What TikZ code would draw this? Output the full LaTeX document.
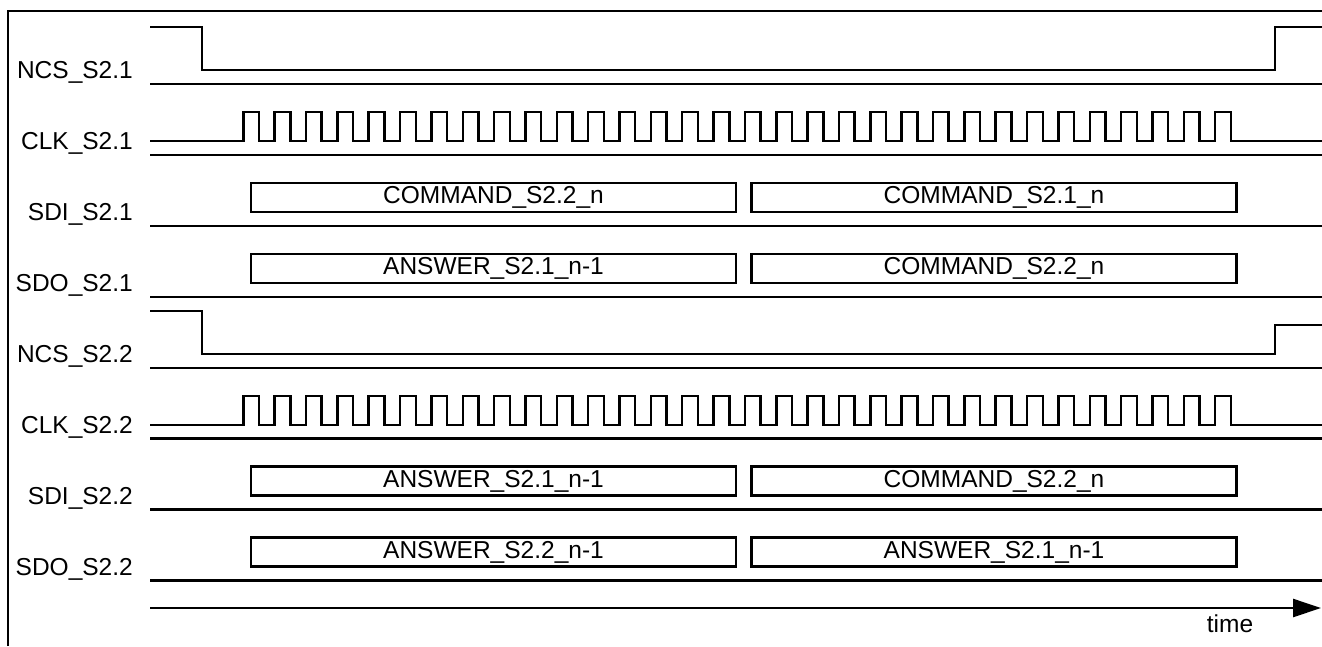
\documentclass[tikz,border=0pt]{standalone}
\usepackage{fontspec}
\setmainfont{Liberation Sans}
\usetikzlibrary{arrows.meta}
\begin{document}
\begin{tikzpicture}[x=1pt,y=-1pt,
  wave/.style={line width=2.5pt, line join=miter},
  sepline/.style={line width=2.6pt},
  frameline/.style={line width=1.6pt},
  siglabel/.style={anchor=base east, inner sep=0pt, font=\fontsize{24.5}{28}\selectfont},
  databox/.style={draw, line width=2.5pt, minimum width=485pt, minimum height=29pt, inner sep=0pt, font=\fontsize{24.5}{28}\selectfont},
  timelabel/.style={anchor=base, inner sep=0pt, font=\fontsize{24.5}{28}\selectfont}]
\useasboundingbox (0,0) rectangle (1322,646);
% frame
\draw[frameline] (8,646) -- (8,11) -- (1322,11);
% separators
\foreach \k in {0,...,7} {
  \draw[sepline] (150,{84+70.95*\k}) -- (1322,{84+70.95*\k});
}
% labels
\node[siglabel] (l1) at (133,78.6) {NCS\_S2.1};
\node[siglabel] (l2) at (133,149.5) {CLK\_S2.1};
\node[siglabel] (l3) at (133,220.5) {SDI\_S2.1};
\node[siglabel] (l4) at (133,291.5) {SDO\_S2.1};
\node[siglabel] (l5) at (133,362.4) {NCS\_S2.2};
\node[siglabel] (l6) at (133,433.4) {CLK\_S2.2};
\node[siglabel] (l7) at (133,504.3) {SDI\_S2.2};
\node[siglabel] (l8) at (133,575.3) {SDO\_S2.2};
% NCS waveforms
\draw[wave] (150,27) -- (202,27) -- (202,70) -- (1275,70) -- (1275,27) -- (1322,27);
\draw[wave] (150,310.8) -- (202,310.8) -- (202,353.8) -- (1275,353.8) -- (1275,324.8) -- (1322,324.8);
% CLK waveforms
\foreach \yl in {141, 424.8} {
  \draw[wave] (150,\yl) -- (243.3,\yl)
    \foreach \i in {0,...,31} { -- ++(0,-29) -- ++(15.7,0) -- ++(0,29) -- ++(15.65,0) }
    -- (1322,\yl);
}
% data boxes
\node[databox] (b1a) at (493.5,197.4) {COMMAND\_S2.2\_n};
\node[databox] (b1b) at (994,197.4) {COMMAND\_S2.1\_n};
\node[databox] (b2a) at (493.5,268.4) {ANSWER\_S2.1\_n-1};
\node[databox] (b2b) at (994,268.4) {COMMAND\_S2.2\_n};
\node[databox] (b3a) at (493.5,481.2) {ANSWER\_S2.1\_n-1};
\node[databox] (b3b) at (994,481.2) {COMMAND\_S2.2\_n};
\node[databox] (b4a) at (493.5,552.2) {ANSWER\_S2.2\_n-1};
\node[databox] (b4b) at (994,552.2) {ANSWER\_S2.1\_n-1};
% time axis
\coordinate (t0) at (150,608);
\coordinate (t1) at (1321,608);
\draw[wave, -{Triangle[length=28pt,width=18pt]}] (t0) -- (t1);
\node[timelabel] (tl) at (1230,632.5) {time};
\end{tikzpicture}
\end{document}
